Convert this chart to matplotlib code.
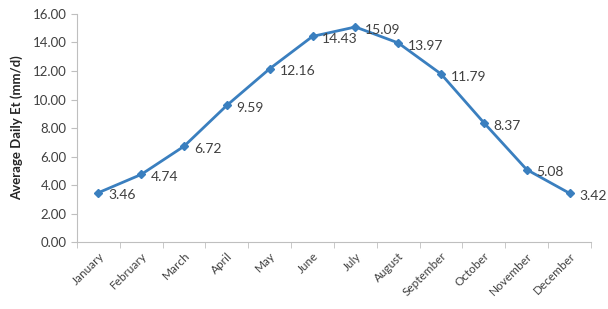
import numpy as np
import matplotlib.pyplot as plt

months = ['January', 'February', 'March', 'April', 'May', 'June', 'July',
          'August', 'September', 'October', 'November', 'December']
et_values = [3.46, 4.74, 6.72, 9.59, 12.16, 14.43, 15.09, 13.97, 11.79, 8.37, 5.08, 3.42]

plt.rcParams['font.family'] = ['Lato', 'DejaVu Sans']
text_col = '#404040'
line_col = '#3a7fbf'

fig = plt.figure(figsize=(6.08, 3.09), dpi=100)
ax = fig.add_axes([0.1266, 0.2168, 0.8454, 0.7379])

x = np.arange(len(months))
ax.plot(x, et_values, color=line_col, lw=2, marker='D', ms=4.5, zorder=3)
for xi, v in zip(x, et_values):
    ax.annotate('{:.2f}'.format(v), (xi, v), xytext=(7, -2), textcoords='offset points',
                ha='left', va='center', fontsize=10, color=text_col)

ax.set_xlim(-0.5, len(months) - 0.5)
ax.set_ylim(0, 16)
ax.set_yticks(np.arange(0, 16.1, 2))
ax.set_yticklabels(['{:.2f}'.format(t) for t in np.arange(0, 16.1, 2)])
ax.set_xticks(x)
ax.set_xticklabels(months, rotation=45, ha='right', rotation_mode='anchor')
ax.set_xticks(np.arange(-0.5, len(months)), minor=True)
ax.tick_params(axis='x', which='major', length=0, labelsize=8.5, labelcolor=text_col, pad=6)
ax.tick_params(axis='x', which='minor', length=4, color='#bfbfbf')
ax.tick_params(axis='y', length=4, color='#bfbfbf', labelsize=9.5, labelcolor=text_col)

for s in ['top', 'right']:
    ax.spines[s].set_visible(False)
for s in ['left', 'bottom']:
    ax.spines[s].set_color('#bfbfbf')

ax.set_ylabel('Average Daily Et (mm/d)', fontsize=9.5, fontweight='bold', color='#262626', labelpad=7)

fig.savefig('out.png', dpi=100)
